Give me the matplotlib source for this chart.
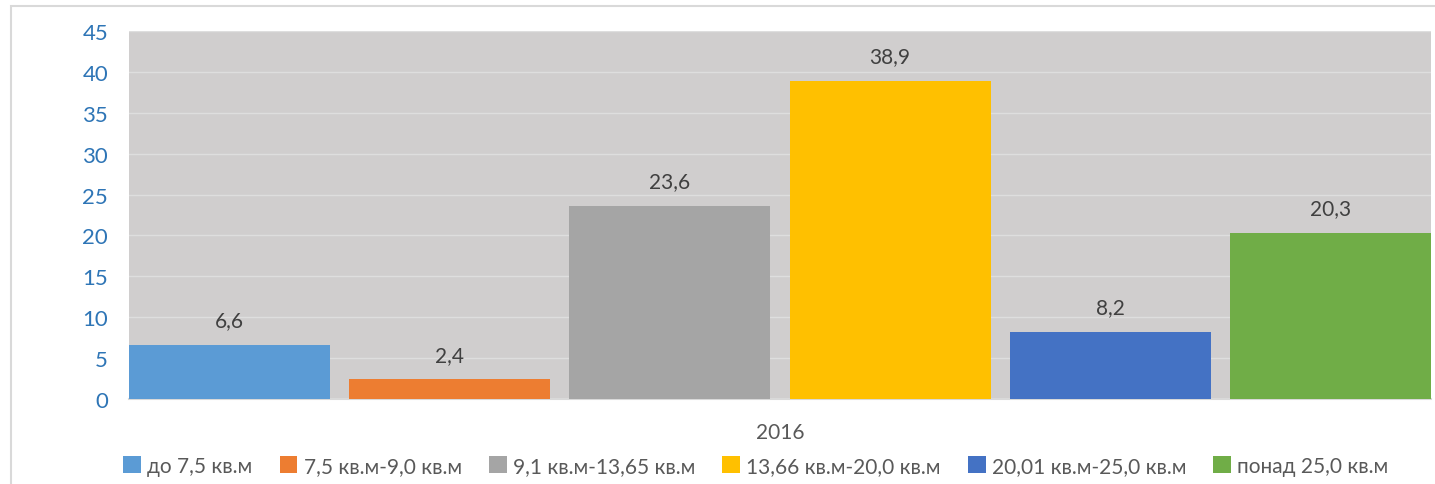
import matplotlib
matplotlib.use('Agg')
import matplotlib.pyplot as plt
from matplotlib.patches import Rectangle, Patch
import numpy as np

plt.rcParams['font.family'] = ['Lato', 'DejaVu Sans']

categories = ['до 7,5 кв.м', '7,5 кв.м-9,0 кв.м', '9,1 кв.м-13,65 кв.м',
              '13,66 кв.м-20,0 кв.м', '20,01 кв.м-25,0 кв.м', 'понад 25,0 кв.м']
values = [6.6, 2.4, 23.6, 38.9, 8.2, 20.3]
colors = ['#5B9BD5', '#ED7D31', '#A5A5A5', '#FFC000', '#4472C4', '#70AD47']
year = '2016'

fig = plt.figure(figsize=(14.35, 4.85), dpi=100)
# outer chart border, only top and left visible in the crop
fig.patches.append(Rectangle((11 / 1435, -0.1), 1.2, 1.1 - 7 / 485, transform=fig.transFigure,
                             facecolor='none', edgecolor='#d9d9d9', linewidth=1.5))
ax = fig.add_axes([129 / 1435, 1 - 400 / 485, 1302 / 1435, 368 / 485])
ax.set_facecolor('#D0CECE')

width = 201 / 220
x = np.arange(len(values))
bars = ax.bar(x, values, width=width, color=colors, zorder=3)
for xi, v in zip(x, values):
    ax.text(xi, v + 3.0, str(v).replace('.', ','), ha='center', va='center',
            fontsize=15, color='#404040', zorder=4)

ax.set_xlim(-0.5 * width, len(values) - 1 + 0.5 * width)
ax.set_ylim(0, 45)
ax.set_yticks(range(0, 46, 5))
ax.yaxis.grid(True, color='#dedede', linewidth=1, zorder=1)
ax.tick_params(axis='y', length=0, labelsize=16, labelcolor='#2E75B6', pad=15)
ax.set_xticks([])
for s in ['top', 'right', 'left']:
    ax.spines[s].set_visible(False)
ax.spines['bottom'].set_color('#d9d9d9')
ax.spines['bottom'].set_linewidth(1.5)

fig.text(780 / 1435, 1 - 433 / 485, year, ha='center', va='center', fontsize=15, color='#595959')

handles = [Patch(facecolor=c, edgecolor='none') for c in colors]
fig.legend(handles, categories, loc='center', bbox_to_anchor=(756 / 1435, 1 - 467 / 485),
           ncol=6, frameon=False, fontsize=15, handlelength=0.85, handleheight=0.85,
           handletextpad=0.3, columnspacing=1.3, labelcolor='#595959')

fig.savefig('out.png', dpi=100)
